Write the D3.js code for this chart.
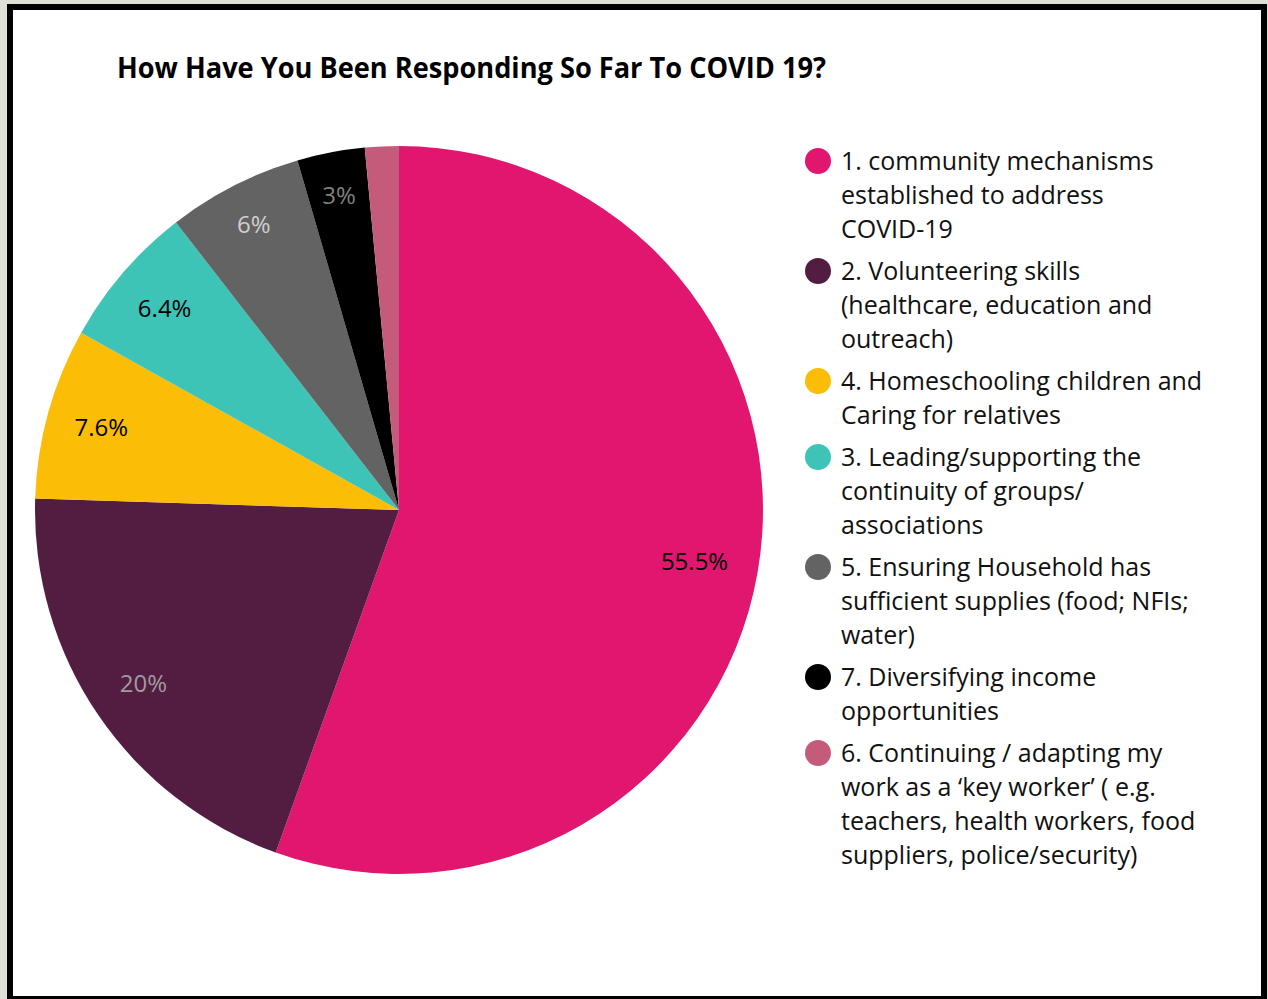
<!DOCTYPE html>
<html>
<head>
<meta charset="utf-8">
<script src="https://cdn.jsdelivr.net/npm/d3@7"></script>
<style>
  body { margin: 0; background: #e0e0d6; }
  svg { display: block; font-family: "Open Sans", "Noto Sans", sans-serif; }
</style>
</head>
<body>
<div class="canvas"></div>
<script>
// data
const categories = [
  ['1. community mechanisms', 'established to address', 'COVID-19'],
  ['2. Volunteering skills', '(healthcare, education and', 'outreach)'],
  ['4. Homeschooling children and', 'Caring for relatives'],
  ['3. Leading/supporting the', 'continuity of groups/', 'associations'],
  ['5. Ensuring Household has', 'sufficient supplies (food; NFIs;', 'water)'],
  ['7. Diversifying income', 'opportunities'],
  ['6. Continuing / adapting my', 'work as a \u2018key worker\u2019 ( e.g.', 'teachers, health workers, food', 'suppliers, police/security)']
];
const values = [55.5, 20, 7.6, 6.4, 6, 3, 1.5];
const valueLabels = ['55.5%', '20%', '7.6%', '6.4%', '6%', '3%', ''];
const colors = ['#e0166f', '#521d40', '#fbbd05', '#3ec3b7', '#636363', '#000000', '#c55b7a'];
const labelColors = ['#000000', '#a09aa0', '#000000', '#000000', '#cfcfcf', '#808080', '#000000'];
const title = 'How Have You Been Responding So Far To COVID 19?';

const width = 1268, height = 999;

const svg = d3.select('.canvas')
  .append('svg')
  .attr('width', width)
  .attr('height', height);

// cream background + black frame
svg.append('rect').attr('width', width).attr('height', height).attr('fill', '#e0e0d6');
svg.append('rect')
  .attr('x', 10).attr('y', 7)
  .attr('width', 1254).attr('height', 992)
  .attr('fill', '#fff')
  .attr('stroke', '#000')
  .attr('stroke-width', 6);

svg.append('text')
  .attr('x', 117).attr('y', 78)
  .attr('font-size', 28)
  .attr('font-weight', 700)
  .attr('textLength', 709)
  .attr('lengthAdjust', 'spacingAndGlyphs')
  .attr('fill', '#000')
  .text(title);

// pie
const radius = 364;
const pieGroup = svg.append('g')
  .attr('transform', 'translate(399,510)');

const pie = d3.pie().sort(null).value(d => d);
const arc = d3.arc().innerRadius(0).outerRadius(radius);

// label distance from centre depends a little on slice size
const labelPos = d => {
  const a = d.endAngle - d.startAngle;
  const r = a > 3 ? 300 : (a < 0.39 ? 320 : 309);
  return d3.arc().innerRadius(r).outerRadius(r).centroid(d);
};

const arcs = pie(values);

pieGroup.selectAll('path')
  .data(arcs)
  .enter()
  .append('path')
  .attr('d', arc)
  .attr('fill', (d, i) => colors[i]);

pieGroup.selectAll('text.lbl')
  .data(arcs)
  .enter()
  .append('text')
  .attr('class', 'lbl')
  .attr('transform', d => `translate(${labelPos(d)})`)
  .attr('text-anchor', 'middle')
  .attr('dy', '0.35em')
  .attr('font-size', 24)
  .attr('fill', (d, i) => labelColors[i])
  .text((d, i) => valueLabels[i]);

// legend
const lineH = 34, itemGap = 8;
const legend = svg.append('g').attr('transform', 'translate(818,161)');
let yPos = 0;
categories.forEach((lines, i) => {
  const item = legend.append('g').attr('transform', `translate(0,${yPos})`);
  item.append('circle').attr('r', 13).attr('fill', colors[i]);
  item.append('text')
    .attr('x', 23)
    .attr('font-size', 25)
    .attr('fill', '#111')
    .selectAll('tspan')
    .data(lines)
    .enter()
    .append('tspan')
    .attr('x', 23)
    .attr('y', (d, j) => j * lineH + 9)
    .text(d => d);
  yPos += lines.length * lineH + itemGap;
});
</script>
</body>
</html>
